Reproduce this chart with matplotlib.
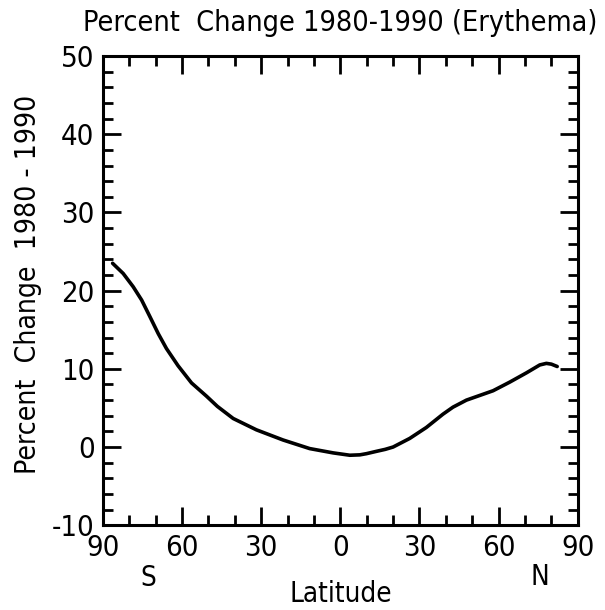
import matplotlib
matplotlib.use("Agg")
import matplotlib.pyplot as plt
from matplotlib.ticker import MultipleLocator, FixedLocator

# Data (latitude: negative = South)
lat = [-86.3, -82.3, -78.5, -75.3, -72.2, -69.0, -65.9, -61.5, -56.4,
       -50.7, -46.6, -40.6, -31.8, -21.7, -11.6, -2.7, 3.6, 7.4, 9.9, 13.7,
       17.0, 20.0, 26.3, 32.6, 38.9, 42.7, 47.8, 57.9, 64.2, 70.6, 75.6,
       78.1, 80.0, 82.2]
pct = [23.5, 22.2, 20.5, 18.8, 16.7, 14.5, 12.6, 10.4, 8.2,
       6.5, 5.2, 3.65, 2.2, 0.9, -0.2, -0.75, -1.05, -1.0, -0.85, -0.55,
       -0.3, 0.0, 1.1, 2.5, 4.2, 5.1, 6.0, 7.2, 8.3, 9.5, 10.5,
       10.7, 10.6, 10.3]

xticks = [-90, -60, -30, 0, 30, 60, 90]
xticklabels = ["90", "60", "30", "0", "30", "60", "90"]
yticks = [-10, 0, 10, 20, 30, 40, 50]
yticklabels = ["-10", "0", "10", "20", "30", "40", "50"]

title = "Percent  Change 1980-1990 (Erythema)"
ylabel = "Percent  Change  1980 - 1990"
xlabel = "Latitude"

plt.rcParams['font.family'] = ["DejaVu Sans"]
plt.rcParams['font.stretch'] = "condensed"

fig = plt.figure(figsize=(6.05, 6.10), dpi=100)
ax = fig.add_axes([0.170, 0.139, 0.785, 0.769])

ax.plot(lat, pct, color="black", lw=2.6, solid_capstyle="round",
        solid_joinstyle="round")

ax.set_xlim(-90, 90)
ax.set_ylim(-10, 50)
ax.xaxis.set_major_locator(FixedLocator(xticks))
ax.set_xticklabels(xticklabels)
ax.xaxis.set_minor_locator(MultipleLocator(10))
ax.yaxis.set_major_locator(FixedLocator(yticks))
ax.set_yticklabels(yticklabels)
ax.yaxis.set_minor_locator(MultipleLocator(2))

ax.tick_params(which="both", direction="in", top=True, right=True, width=2,
               labelsize=21, colors="black")
ax.tick_params(which="major", length=13, pad=6)
ax.tick_params(which="minor", length=7)
for s in ax.spines.values():
    s.set_linewidth(2.2)

fig.text(0.563, 0.963, title, ha="center", va="center", fontsize=20.6)
fig.text(0.047, 0.534, ylabel, ha="center", va="center", rotation=90, fontsize=20.3)
fig.text(0.564, 0.026, xlabel, ha="center", va="center", fontsize=20)
fig.text(0.245, 0.052, "S", ha="center", va="center", fontsize=20)
fig.text(0.893, 0.054, "N", ha="center", va="center", fontsize=20)

fig.savefig("out.png", dpi=100)
